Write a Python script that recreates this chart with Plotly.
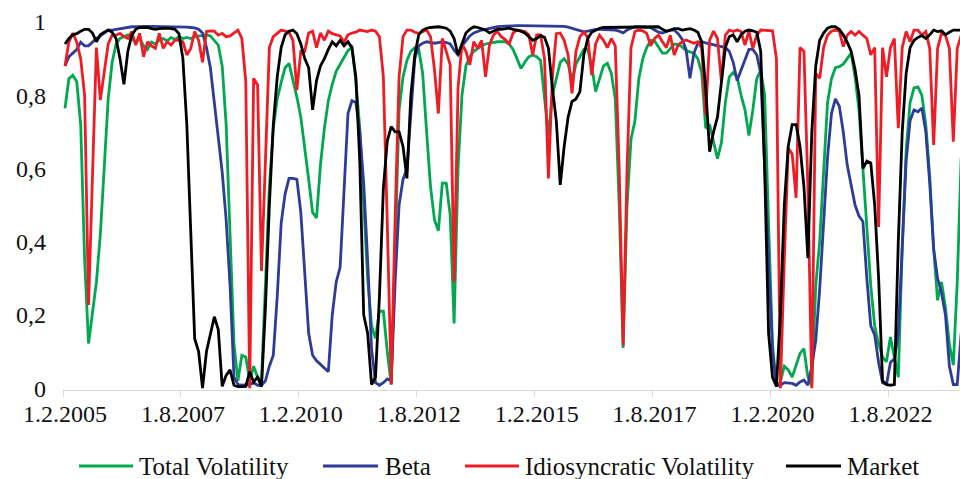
import plotly.graph_objects as go

# ---------------- data ----------------
N_MONTHS = 229
months = [f"1.{(1 + i) % 12 + 1}.{2005 + (1 + i) // 12}" for i in range(N_MONTHS)]

tick_labels = ["1.2.2005", "1.8.2007", "1.2.2010", "1.8.2012",
               "1.2.2015", "1.8.2017", "1.2.2020", "1.8.2022"]

y_tick_values = [0, 0.2, 0.4, 0.6, 0.8, 1]
y_tick_labels = ["0", "0,2", "0,4", "0,6", "0,8", "1"]

series_names = ["Total Volatility", "Beta", "Idiosyncratic Volatility", "Market"]

total_volatility = [
    0.764, 0.845, 0.855, 0.837, 0.72, 0.35, 0.122, 0.2, 0.29, 0.42,
    0.62, 0.79, 0.89, 0.94, 0.955, 0.96, 0.965, 0.955, 0.945, 0.955,
    0.935, 0.925, 0.945, 0.94, 0.95, 0.955, 0.948, 0.958, 0.952, 0.96,
    0.955, 0.958, 0.955, 0.96, 0.962, 0.965, 0.965, 0.962, 0.95, 0.937,
    0.88, 0.72, 0.42, 0.12, 0.02, 0.09, 0.085, 0.02, 0.06, 0.03,
    0.02, 0.3, 0.55, 0.71, 0.79, 0.835, 0.875, 0.887, 0.845, 0.795,
    0.74, 0.66, 0.57, 0.48, 0.465, 0.61, 0.71, 0.785, 0.83, 0.865,
    0.885, 0.905, 0.922, 0.93, 0.84, 0.71, 0.5, 0.3, 0.17, 0.136,
    0.21, 0.21, 0.1, 0.01, 0.38, 0.76, 0.85, 0.895, 0.92, 0.93,
    0.925, 0.86, 0.70, 0.55, 0.46, 0.43, 0.56, 0.56, 0.473, 0.177,
    0.6, 0.8, 0.88, 0.905, 0.92, 0.928, 0.935, 0.94, 0.942, 0.945,
    0.946, 0.946, 0.946, 0.94, 0.925, 0.9, 0.873, 0.89, 0.905, 0.91,
    0.905, 0.895, 0.8, 0.69, 0.8, 0.845, 0.89, 0.9, 0.885, 0.84,
    0.885, 0.905, 0.925, 0.925, 0.88, 0.81, 0.845, 0.88, 0.887, 0.86,
    0.79, 0.5, 0.11, 0.5, 0.68, 0.73, 0.846, 0.9, 0.93, 0.95,
    0.948, 0.933, 0.915, 0.915, 0.928, 0.94, 0.938, 0.932, 0.922, 0.919,
    0.915, 0.9, 0.86, 0.71, 0.72, 0.673, 0.627, 0.67, 0.78, 0.85,
    0.862, 0.85, 0.8, 0.76, 0.69, 0.76, 0.846, 0.868, 0.8, 0.45,
    0.12, 0.005, 0.017, 0.06, 0.05, 0.03, 0.06, 0.095, 0.108, 0.03,
    0.008, 0.28, 0.4, 0.6, 0.78, 0.845, 0.875, 0.878, 0.885, 0.9,
    0.915, 0.85, 0.76, 0.6, 0.45, 0.28, 0.17, 0.12, 0.085, 0.072,
    0.14, 0.08, 0.03, 0.38, 0.65, 0.78, 0.82, 0.823, 0.8, 0.72,
    0.58, 0.38, 0.24, 0.29, 0.22, 0.12, 0.063, 0.29, 0.63,
]

beta = [
    0.88, 0.905, 0.915, 0.925, 0.945, 0.935, 0.935, 0.945, 0.955, 0.962,
    0.97, 0.978, 0.978, 0.98, 0.98, 0.982, 0.985, 0.987, 0.987, 0.988,
    0.988, 0.988, 0.988, 0.988, 0.988, 0.988, 0.988, 0.988, 0.988, 0.987,
    0.987, 0.986, 0.985, 0.984, 0.98, 0.97, 0.93, 0.875, 0.78, 0.69,
    0.59, 0.46, 0.28, 0.03, 0.01, 0.008, 0.008, 0.01, 0.015, 0.008,
    0.008, 0.02, 0.06, 0.09, 0.25, 0.45, 0.53, 0.573, 0.573, 0.57,
    0.48, 0.3, 0.15, 0.09, 0.075, 0.065, 0.055, 0.045, 0.2, 0.29,
    0.33, 0.55, 0.75, 0.785, 0.78, 0.7, 0.56, 0.35, 0.108, 0.015,
    0.008, 0.015, 0.025, 0.02, 0.29, 0.5, 0.57, 0.6, 0.76, 0.9,
    0.935, 0.942, 0.946, 0.944, 0.942, 0.944, 0.946, 0.944, 0.94, 0.923,
    0.91, 0.935, 0.95, 0.962, 0.97, 0.975, 0.978, 0.98, 0.983, 0.985,
    0.987, 0.988, 0.989, 0.99, 0.99, 0.99, 0.99, 0.99, 0.99, 0.99,
    0.99, 0.99, 0.99, 0.99, 0.99, 0.99, 0.988, 0.988, 0.986, 0.983,
    0.978, 0.975, 0.973, 0.975, 0.978, 0.98, 0.98, 0.98, 0.98, 0.98,
    0.978, 0.975, 0.97, 0.978, 0.983, 0.987, 0.987, 0.987, 0.987, 0.985,
    0.978, 0.972, 0.97, 0.975, 0.978, 0.978, 0.968, 0.953, 0.925, 0.846,
    0.915, 0.942, 0.946, 0.943, 0.94, 0.937, 0.934, 0.933, 0.93, 0.92,
    0.89, 0.84, 0.87, 0.9, 0.925, 0.925, 0.91, 0.86, 0.6, 0.35,
    0.1, 0.008, 0.008, 0.015, 0.013, 0.013, 0.008, 0.017, 0.022, 0.008,
    0.06, 0.13, 0.27, 0.45, 0.63, 0.75, 0.79, 0.77, 0.7, 0.61,
    0.55, 0.5, 0.47, 0.455, 0.3, 0.17, 0.145, 0.07, 0.015, 0.01,
    0.07, 0.08, 0.15, 0.4, 0.62, 0.73, 0.76, 0.755, 0.765, 0.7,
    0.56, 0.38, 0.3, 0.26, 0.2, 0.06, 0.01, 0.01, 0.15,
]

idiosyncratic_volatility = [
    0.88, 0.945, 0.97, 0.945, 0.9, 0.8, 0.227, 0.6, 0.93, 0.787,
    0.86, 0.94, 0.964, 0.964, 0.969, 0.96, 0.955, 0.974, 0.937, 0.969,
    0.905, 0.946, 0.935, 0.928, 0.969, 0.928, 0.946, 0.937, 0.951, 0.95,
    0.946, 0.91, 0.928, 0.974, 0.95, 0.89, 0.974, 0.976, 0.975, 0.964,
    0.969, 0.96, 0.962, 0.97, 0.978, 0.955, 0.837, 0.0, 0.846, 0.828,
    0.32, 0.62, 0.93, 0.96, 0.968, 0.978, 0.975, 0.972, 0.95, 0.814,
    0.92, 0.92, 0.97, 0.975, 0.93, 0.97, 0.95, 0.975, 0.968, 0.965,
    0.962, 0.945, 0.965, 0.97, 0.972, 0.978, 0.975, 0.974, 0.978, 0.975,
    0.96, 0.85, 0.45, 0.01, 0.47, 0.85, 0.96, 0.978, 0.978, 0.972,
    0.969, 0.974, 0.978, 0.96, 0.87, 0.75, 0.955, 0.92, 0.883, 0.29,
    0.82, 0.94, 0.92, 0.883, 0.946, 0.928, 0.95, 0.85, 0.937, 0.964,
    0.974, 0.96, 0.952, 0.94, 0.97, 0.978, 0.976, 0.974, 0.965, 0.91,
    0.965, 0.965, 0.9, 0.573, 0.85, 0.968, 0.97, 0.95, 0.91, 0.805,
    0.92, 0.96, 0.972, 0.958, 0.855, 0.94, 0.964, 0.95, 0.93, 0.955,
    0.935, 0.6, 0.117, 0.6, 0.93, 0.974, 0.978, 0.976, 0.969, 0.935,
    0.955, 0.964, 0.946, 0.93, 0.964, 0.91, 0.937, 0.946, 0.951, 0.946,
    0.942, 0.946, 0.928, 0.746, 0.95, 0.975, 0.955, 0.837, 0.964, 0.978,
    0.974, 0.978, 0.974, 0.937, 0.975, 0.928, 0.964, 0.978, 0.978, 0.978,
    0.976, 0.9, 0.0, 0.35, 0.655, 0.64, 0.52, 0.93, 0.92, 0.55,
    0.0, 0.86, 0.846, 0.93, 0.964, 0.975, 0.978, 0.975, 0.933, 0.964,
    0.974, 0.964, 0.974, 0.964, 0.955, 0.91, 0.93, 0.44, 0.93, 0.85,
    0.93, 0.955, 0.71, 0.93, 0.974, 0.946, 0.978, 0.978, 0.964, 0.974,
    0.928, 0.664, 0.928, 0.969, 0.964, 0.928, 0.673, 0.928, 0.964,
]

market = [
    0.94, 0.955, 0.965, 0.968, 0.975, 0.98, 0.98, 0.97, 0.946, 0.965,
    0.972, 0.978, 0.972, 0.955, 0.9, 0.83, 0.92, 0.965, 0.98, 0.985,
    0.985, 0.985, 0.982, 0.98, 0.982, 0.983, 0.983, 0.982, 0.98, 0.968,
    0.9, 0.72, 0.42, 0.135, 0.1, 0.0, 0.1, 0.15, 0.195, 0.16,
    0.005, 0.035, 0.05, 0.008, 0.004, 0.004, 0.005, 0.045, 0.017, 0.03,
    0.004, 0.22, 0.5, 0.72, 0.85, 0.93, 0.965, 0.975, 0.978, 0.968,
    0.94, 0.9, 0.875, 0.76, 0.84, 0.88, 0.9, 0.925, 0.946, 0.935,
    0.95, 0.935, 0.946, 0.93, 0.85, 0.62, 0.2, 0.15, 0.01, 0.03,
    0.25, 0.545, 0.675, 0.714, 0.70, 0.70, 0.66, 0.573, 0.8, 0.91,
    0.965, 0.978, 0.983, 0.985, 0.987, 0.987, 0.985, 0.983, 0.975, 0.955,
    0.91, 0.94, 0.97, 0.98, 0.987, 0.985, 0.982, 0.978, 0.97, 0.975,
    0.98, 0.98, 0.982, 0.983, 0.98, 0.978, 0.975, 0.97, 0.96, 0.95,
    0.955, 0.963, 0.958, 0.928, 0.82, 0.73, 0.555, 0.66, 0.74, 0.783,
    0.79, 0.81, 0.91, 0.955, 0.972, 0.978, 0.983, 0.985, 0.985, 0.985,
    0.985, 0.985, 0.985, 0.985, 0.985, 0.985, 0.985, 0.987, 0.987, 0.987,
    0.987, 0.987, 0.98, 0.975, 0.978, 0.982, 0.982, 0.978, 0.98, 0.982,
    0.978, 0.972, 0.945, 0.82, 0.646, 0.70, 0.74, 0.84, 0.93, 0.96,
    0.965, 0.946, 0.965, 0.975, 0.978, 0.976, 0.972, 0.92, 0.6, 0.15,
    0.03, 0.005, 0.2, 0.5, 0.66, 0.72, 0.72, 0.66, 0.55, 0.355,
    0.7, 0.88, 0.95, 0.97, 0.983, 0.987, 0.987, 0.98, 0.965, 0.945,
    0.92, 0.87, 0.8, 0.6, 0.62, 0.615, 0.5, 0.3, 0.02, 0.01,
    0.008, 0.01, 0.4, 0.7, 0.86, 0.93, 0.95, 0.958, 0.963, 0.955,
    0.965, 0.978, 0.974, 0.976, 0.965, 0.972, 0.978, 0.978, 0.978,
]

series_values = [total_volatility, beta, idiosyncratic_volatility, market]
for s in series_values:
    assert len(s) == N_MONTHS, len(s)

# ---------------- style ----------------
colors = ["#00A84F", "#2E3C98", "#EE1C25", "#000000"]
FONT = "Liberation Serif"
TEXT_COLOR = "#111111"

W, H = 960, 479
ML, MR, MT, MB = 63, 0, 22, 89
PW, PH = W - ML - MR, H - MT - MB


def paper_x(px):
    return (px - ML) / PW


def paper_y(py):
    return (H - MB - py) / PH


x_idx = list(range(N_MONTHS))
tick_vals = [months.index(t) for t in tick_labels]
boundary_ticks = [v - 0.5 for v in tick_vals]

fig = go.Figure()
for name, vals, col in zip(series_names, series_values, colors):
    fig.add_trace(go.Scatter(
        x=x_idx, y=vals, name=name, mode="lines",
        line=dict(color=col, width=2.8),
        customdata=months,
        hovertemplate="%{customdata}: %{y}<extra>" + name + "</extra>",
        showlegend=False,
    ))

fig.update_layout(
    width=W, height=H,
    margin=dict(l=ML, r=MR, t=MT, b=MB, pad=0),
    plot_bgcolor="white", paper_bgcolor="white",
    font=dict(family=FONT, size=24, color=TEXT_COLOR),
    showlegend=False,
)

fig.update_xaxes(
    range=[-0.5, 227.7],
    tickmode="array", tickvals=tick_vals, ticktext=tick_labels,
    ticks="", showgrid=False, zeroline=False,
    showline=True, linecolor="#d9d9d9", linewidth=1,
    ticklabelstandoff=2,
    tickfont=dict(family=FONT, size=24, color=TEXT_COLOR),
    minor=dict(tickmode="array", tickvals=boundary_ticks, ticks="outside",
               ticklen=6, tickcolor="#d9d9d9", tickwidth=1, showgrid=False),
)
fig.update_yaxes(
    range=[-0.005, 1.0],
    tickmode="array", tickvals=y_tick_values, ticktext=y_tick_labels,
    ticks="", showgrid=False, zeroline=False, showline=False,
    ticklabelstandoff=16,
    tickfont=dict(family=FONT, size=24, color=TEXT_COLOR),
)

# ---------------- manual legend ----------------
legend_geom = [(79, 133, 137), (323, 378, 383), (465, 519, 523), (786, 841, 845)]
LEG_Y = 466
for (x0, x1, xt), name, col in zip(legend_geom, series_names, colors):
    fig.add_shape(type="line", xref="paper", yref="paper",
                  x0=paper_x(x0), x1=paper_x(x1),
                  y0=paper_y(LEG_Y), y1=paper_y(LEG_Y),
                  line=dict(color=col, width=2.8))
    fig.add_annotation(xref="paper", yref="paper", x=paper_x(xt), y=paper_y(LEG_Y),
                       text=name, showarrow=False, xanchor="left", yanchor="middle",
                       font=dict(family=FONT, size=25, color=TEXT_COLOR))

fig.write_html("out.html", config={"displayModeBar": False},
               post_script="document.body.style.margin='0';")
